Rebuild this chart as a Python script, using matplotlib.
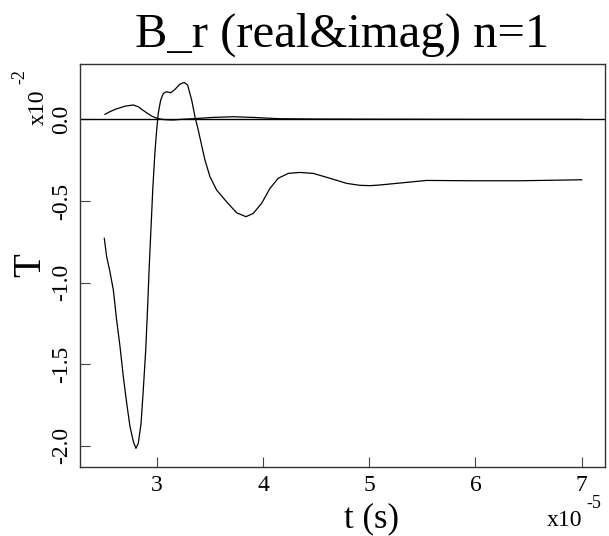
import matplotlib
matplotlib.use("Agg")
import matplotlib.pyplot as plt

plt.rcParams["font.family"] = ["Liberation Serif", "DejaVu Serif"]

# real part (t in 1e-5 s, value in 1e-2)
t_real = [2.504, 2.526, 2.557, 2.589, 2.62, 2.652, 2.683, 2.715, 2.746, 2.778, 2.802,
          2.824, 2.85, 2.871, 2.894, 2.912, 2.927, 2.943, 2.96, 2.98, 2.997, 3.012,
          3.035, 3.06, 3.09, 3.13, 3.17, 3.217, 3.257, 3.289, 3.327, 3.358, 3.389,
          3.42, 3.452, 3.499, 3.562, 3.656, 3.75, 3.838, 3.907, 3.986, 4.064, 4.142,
          4.236, 4.347, 4.472, 4.63, 4.786, 4.911, 5.006, 5.1, 5.257, 5.54, 5.947,
          6.418, 7.0]
v_real = [-0.729, -0.841, -0.933, -1.045, -1.229, -1.392, -1.576, -1.739, -1.882,
          -1.974, -2.015, -1.984, -1.862, -1.658, -1.413, -1.148, -0.903, -0.678,
          -0.433, -0.208, -0.066, 0.037, 0.118, 0.159, 0.169, 0.163, 0.184, 0.216,
          0.226, 0.21, 0.118, 0.016, -0.066, -0.157, -0.249, -0.351, -0.433, -0.505,
          -0.572, -0.596, -0.576, -0.514, -0.423, -0.361, -0.331, -0.325, -0.331,
          -0.361, -0.392, -0.404, -0.406, -0.402, -0.392, -0.374, -0.376, -0.376,
          -0.370]

# imaginary part
t_imag = [2.51, 2.557, 2.605, 2.70, 2.777, 2.824, 2.887, 2.95, 3.012, 3.075, 3.15,
          3.23, 3.342, 3.53, 3.72, 3.9, 4.15, 4.5, 5.0, 6.0, 7.0]
v_imag = [0.031, 0.047, 0.061, 0.081, 0.088, 0.077, 0.047, 0.020, 0.004, -0.002,
          -0.004, 0.0, 0.004, 0.012, 0.016, 0.012, 0.004, 0.002, 0.001, 0.0, 0.0]

x_ticks = [3, 4, 5, 6, 7]
y_ticks = [0.0, -0.5, -1.0, -1.5, -2.0]
y_labels = ["0.0", "-0.5", "-1.0", "-1.5", "-2.0"]

fig = plt.figure(figsize=(6.09, 5.36), dpi=100)
ax = fig.add_axes([80 / 609, 69 / 536, 525 / 609, 403 / 536])

ax.axhline(0, color="black", lw=1.0)
ax.plot(t_real, v_real, color="black", lw=0.9)
ax.plot(t_imag, v_imag, color="black", lw=0.9)

ax.set_xlim(2.275, 7.22)
ax.set_ylim(-2.129, 0.339)

ax.set_xticks(x_ticks)
ax.set_xticklabels([str(x) for x in x_ticks], fontsize=17)
ax.set_yticks(y_ticks)
ax.set_yticklabels(y_labels, fontsize=17, rotation=90, va="center")
ax.tick_params(direction="in", length=7, width=0.8, color="#444444", pad=6)
for s in ax.spines.values():
    s.set_color("#333333")
    s.set_linewidth(1.0)

fig.text(342 / 609, 1 - 35 / 536, "B_r (real&imag) n=1", fontsize=35,
         ha="center", va="center")
fig.text(372 / 609, 1 - 519 / 536, "t (s)", fontsize=25, ha="center", va="center")
fig.text(31 / 609, 1 - 265 / 536, "T", fontsize=28, rotation=90, ha="center", va="center")

fig.text(565 / 609, 1 - 520 / 536, "x10", fontsize=17, ha="center", va="center")
fig.text(594 / 609, 1 - 504 / 536, "-5", fontsize=13, ha="center", va="center")
fig.text(38 / 609, 1 - 107 / 536, "x10", fontsize=17, rotation=90, ha="center", va="center")
fig.text(20 / 609, 1 - 77 / 536, "-2", fontsize=13, rotation=90, ha="center", va="center")

fig.savefig("out.png", dpi=100)
